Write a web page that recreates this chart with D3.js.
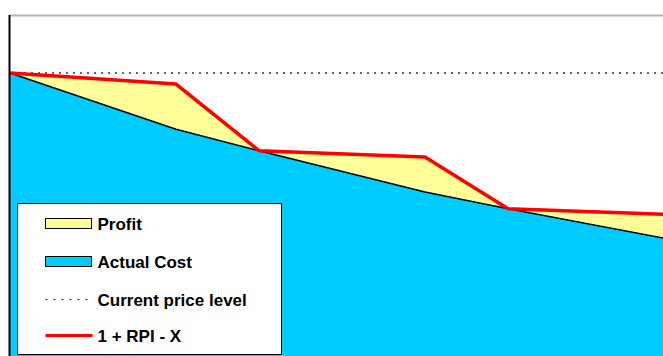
<!DOCTYPE html>
<html>
<head>
<meta charset="utf-8">
<script src="https://cdn.jsdelivr.net/npm/d3@7"></script>
<style>
  body { margin: 0; background: #fff; }
  svg { display: block; }
</style>
</head>
<body>
<div id="chart"></div>
<script>
// periods along the x axis (chart is cut off on the right)
var periods = [0, 2, 3, 5, 6, 8];
// actual cost index
var actualCost = [100, 90.3, 86.6, 79.5, 76.6, 71.2];
// allowed price path: 1 + RPI - X
var pricePath = [100, 98.1, 86.6, 85.5, 76.6, 75.6];
// current price level
var currentPrice = 100;

var legendItems = ['Profit', 'Actual Cost', 'Current price level', '1 + RPI - X'];

var chart_width = 663;
var chart_height = 356;

var svg = d3.select('#chart')
    .append('svg')
    .attr('width', chart_width)
    .attr('height', chart_height);

var x = d3.scaleLinear()
    .domain([0, 8])
    .range([10, 674]);

var y = d3.scaleLinear()
    .domain([110, 50])
    .range([15, 363]);

var data = periods.map(function(p, i) {
  return { p: p, cost: actualCost[i], price: pricePath[i] };
});

// profit band between cost and price
var profitArea = d3.area()
    .x(function(d) { return x(d.p); })
    .y0(function(d) { return y(d.cost); })
    .y1(function(d) { return y(d.price); });

var costArea = d3.area()
    .x(function(d) { return x(d.p); })
    .y0(chart_height + 10)
    .y1(function(d) { return y(d.cost); });

var costLine = d3.line()
    .x(function(d) { return x(d.p); })
    .y(function(d) { return y(d.cost); });

var priceLine = d3.line()
    .x(function(d) { return x(d.p); })
    .y(function(d) { return y(d.price); });

svg.append('path')
    .datum(data)
    .attr('d', profitArea)
    .attr('fill', '#ffff99');

svg.append('path')
    .datum(data)
    .attr('d', costArea)
    .attr('fill', '#00ccff');

svg.append('path')
    .datum(data)
    .attr('d', costLine)
    .attr('fill', 'none')
    .attr('stroke', '#000')
    .attr('stroke-width', 1.5);

// current price level
svg.append('line')
    .attr('x1', x(0))
    .attr('x2', chart_width)
    .attr('y1', y(currentPrice))
    .attr('y2', y(currentPrice))
    .attr('stroke', '#333')
    .attr('stroke-width', 1.5)
    .attr('stroke-dasharray', '2,5');

svg.append('path')
    .datum(data)
    .attr('d', priceLine)
    .attr('fill', 'none')
    .attr('stroke', '#ff0000')
    .attr('stroke-width', 3.5)
    .attr('stroke-linejoin', 'round');

// plot frame
svg.append('line')
    .attr('x1', 9)
    .attr('x2', chart_width)
    .attr('y1', 15.5)
    .attr('y2', 15.5)
    .attr('stroke', '#b3b3b3')
    .attr('stroke-width', 2);

svg.append('line')
    .attr('x1', 9.5)
    .attr('x2', 9.5)
    .attr('y1', 15)
    .attr('y2', chart_height)
    .attr('stroke', '#000')
    .attr('stroke-width', 2);

// legend
var legend = svg.append('g')
    .attr('transform', 'translate(17.5,203.5)');

legend.append('rect')
    .attr('width', 264)
    .attr('height', 151)
    .attr('fill', '#fff')
    .attr('stroke', '#000')
    .attr('stroke-width', 1);

var rowY = [20, 58, 96, 132];

legend.append('rect')
    .attr('x', 28)
    .attr('y', rowY[0] - 5)
    .attr('width', 46)
    .attr('height', 10)
    .attr('fill', '#ffff99')
    .attr('stroke', '#000')
    .attr('stroke-width', 1);

legend.append('rect')
    .attr('x', 28)
    .attr('y', rowY[1] - 5)
    .attr('width', 46)
    .attr('height', 10)
    .attr('fill', '#00ccff')
    .attr('stroke', '#000')
    .attr('stroke-width', 1);

legend.append('line')
    .attr('x1', 28)
    .attr('x2', 75)
    .attr('y1', rowY[2])
    .attr('y2', rowY[2])
    .attr('stroke', '#333')
    .attr('stroke-width', 1.2)
    .attr('stroke-dasharray', '2,6');

legend.append('line')
    .attr('x1', 28)
    .attr('x2', 75)
    .attr('y1', rowY[3])
    .attr('y2', rowY[3])
    .attr('stroke', '#ff0000')
    .attr('stroke-width', 3);

legend.selectAll('text.item')
    .data(legendItems)
    .enter()
    .append('text')
    .attr('class', 'item')
    .attr('x', 80)
    .attr('y', function(d, i) { return rowY[i] + 6; })
    .attr('font-family', 'Liberation Sans, Arial, sans-serif')
    .attr('font-weight', 'bold')
    .attr('font-size', '17px')
    .attr('fill', '#000')
    .text(function(d) { return d; });
</script>
</body>
</html>
